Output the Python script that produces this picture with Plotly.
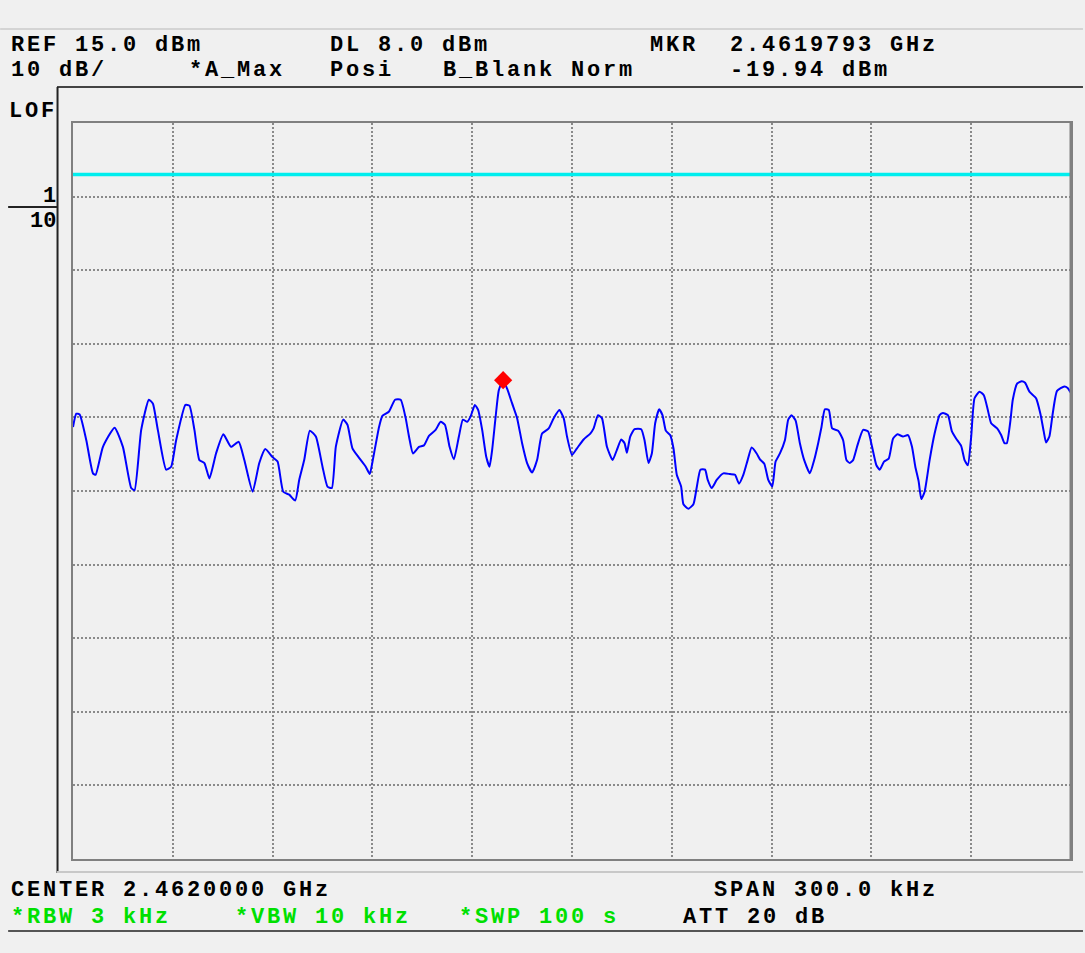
import plotly.graph_objects as go

# ---- data ----
freq_khz = [
    -150.0, -149.0, -148.0, -146.0, -144.0, -143.2, -141.0, -137.5, -135.0, -132.5,
    -131.5, -129.5, -127.2, -126.0, -124.5, -122.0, -120.5, -119.0, -116.2, -115.0,
    -113.5, -112.0, -110.5, -109.0, -107.0, -104.8, -102.5, -100.2, -98.5, -96.0,
    -94.0, -92.2, -90.0, -88.5, -86.8, -85.0, -83.2, -82.0, -80.5, -78.8,
    -77.0, -75.0, -73.5, -72.2, -71.0, -68.8, -67.5, -66.0, -64.0, -62.0,
    -60.8, -59.8, -58.0, -57.0, -55.0, -53.2, -51.5, -50.0, -49.0, -47.8,
    -46.0, -44.5, -43.0, -41.0, -39.5, -38.2, -36.8, -35.5, -34.0, -32.8,
    -31.5, -30.5, -29.2, -28.2, -27.0, -25.8, -24.8, -24.0, -23.0, -22.0,
    -20.7, -19.5, -18.0, -16.5, -15.0, -13.5, -12.0, -10.5, -9.0, -7.0,
    -5.5, -3.8, -2.5, -1.5, 0.0, 1.5, 3.5, 5.5, 6.5, 7.8,
    9.0, 10.5, 12.2, 13.5, 14.8, 15.8, 16.5, 17.5, 18.8, 20.8,
    21.8, 23.0, 24.0, 25.0, 26.2, 27.2, 28.2, 29.5, 30.5, 31.5,
    32.8, 33.5, 35.0, 36.5, 37.5, 38.6, 40.0, 40.8, 42.0, 43.5,
    45.5, 47.5, 49.0, 50.2, 51.5, 52.8, 54.0, 55.5, 56.5, 57.8,
    59.0, 60.2, 61.2, 62.5, 64.0, 65.0, 66.0, 67.2, 68.5, 69.8,
    71.5, 72.8, 74.0, 75.0, 76.0, 77.2, 78.2, 80.0, 81.5, 82.5,
    83.5, 84.5, 85.8, 87.5, 89.0, 90.2, 91.5, 92.5, 93.8, 95.2,
    96.5, 97.8, 99.5, 101.0, 102.2, 103.2, 104.2, 105.0, 106.0, 107.5,
    109.0, 110.5, 111.5, 113.0, 114.2, 115.5, 117.0, 118.0, 119.0, 120.0,
    121.0, 122.5, 123.8, 125.0, 126.0, 127.8, 129.0, 130.0, 130.7, 131.8,
    132.5, 133.8, 135.2, 136.2, 137.5, 139.5, 140.8, 141.8, 142.5, 143.5,
    144.5, 145.8, 148.0, 149.0, 150.0,
]
level_dbm = [
    -26.3, -24.5, -24.6, -28.1, -32.6, -32.8, -29.0, -26.4, -29.0, -34.6,
    -34.9, -26.7, -22.6, -23.1, -26.7, -32.1, -31.7, -28.1, -23.3, -23.4,
    -26.7, -30.8, -31.2, -33.3, -29.9, -27.3, -29.0, -28.3, -30.8, -35.1,
    -31.2, -29.3, -30.4, -31.0, -35.1, -35.5, -36.3, -33.5, -30.8, -26.8,
    -27.6, -31.7, -34.4, -34.6, -29.0, -25.3, -26.0, -29.2, -30.5, -31.7,
    -32.7, -30.6, -26.3, -24.8, -24.2, -22.6, -22.6, -25.1, -27.6, -29.9,
    -29.0, -28.8, -27.5, -26.7, -25.6, -26.0, -29.0, -30.7, -27.6, -25.3,
    -25.6, -24.9, -23.3, -24.0, -26.7, -30.3, -31.7, -29.4, -25.1, -21.3,
    -19.94, -21.1, -23.1, -25.1, -28.5, -31.2, -32.5, -30.8, -27.2, -26.5,
    -25.1, -24.0, -25.1, -27.6, -30.1, -29.2, -28.0, -27.2, -26.5, -24.7,
    -25.1, -29.0, -30.8, -29.4, -28.0, -28.5, -29.8, -27.6, -26.6, -26.6,
    -28.1, -31.2, -29.9, -25.8, -23.9, -24.7, -26.8, -27.4, -29.2, -32.8,
    -34.4, -36.8, -37.4, -36.8, -34.5, -32.1, -32.1, -33.5, -34.6, -33.5,
    -32.6, -32.7, -32.8, -34.0, -32.8, -30.8, -29.1, -29.9, -30.7, -31.3,
    -33.5, -34.4, -31.0, -29.9, -28.1, -25.3, -24.7, -25.4, -28.5, -30.8,
    -32.6, -30.8, -28.5, -26.3, -23.9, -24.0, -26.5, -26.8, -28.1, -30.8,
    -31.2, -30.8, -28.8, -26.7, -26.9, -29.0, -31.5, -32.1, -31.0, -30.6,
    -27.9, -27.3, -27.6, -27.4, -29.0, -31.7, -33.7, -36.1, -35.1, -30.8,
    -27.2, -24.7, -24.4, -24.7, -26.9, -27.9, -28.9, -30.8, -31.5, -27.6,
    -22.4, -21.5, -22.0, -24.0, -25.8, -26.5, -27.4, -28.5, -28.5, -25.4,
    -22.6, -20.4, -20.1, -20.3, -21.5, -22.4, -24.5, -26.9, -28.4, -27.6,
    -24.5, -21.4, -20.8, -21.0, -21.7,
]
ref_level = 15.0
db_per_div = 10.0
span_khz = 300.0
display_line_dbm = 8.0
marker_khz = -20.7
marker_dbm = -19.94

header_texts = [
    ("REF 15.0 dBm", 10, 45, "black"),
    ("DL 8.0 dBm", 330, 45, "black"),
    ("MKR", 650, 45, "black"),
    ("2.4619793 GHz", 730, 45, "black"),
    ("10 dB/", 10, 70, "black"),
    ("*A_Max", 188, 70, "black"),
    ("Posi", 330, 70, "black"),
    ("B_Blank Norm", 443, 70, "black"),
    ("-19.94 dBm", 730, 70, "black"),
    ("LOF", 8, 112, "black"),
    ("CENTER 2.4620000 GHz", 10, 890, "black"),
    ("SPAN 300.0 kHz", 714, 890, "black"),
    ("*RBW 3 kHz", 10, 917, "#00e000"),
    ("*VBW 10 kHz", 234, 917, "#00e000"),
    ("*SWP 100 s", 459, 917, "#00e000"),
    ("ATT 20 dB", 683, 917, "black"),
]

# ---- geometry ----
W, H = 1085, 953
L, R, T, B = 73, 1073, 123, 859
BG = "#f0f0f0"
FONT = "Liberation Mono"
FS = 22
LS = 2.8


def px(x):
    return (x - L) / (R - L)


def py(y):
    return (B - y) / (B - T)


fig = go.Figure()

fig.add_trace(go.Scatter(
    x=[-span_khz / 2, span_khz / 2], y=[display_line_dbm, display_line_dbm],
    mode="lines", line=dict(color="#00eeee", width=3.5), hoverinfo="skip"))

fig.add_trace(go.Scatter(
    x=freq_khz, y=level_dbm, mode="lines",
    line=dict(color="#0000ff", width=2, shape="spline", smoothing=0.5)))

fig.add_trace(go.Scatter(
    x=[marker_khz], y=[marker_dbm], mode="markers",
    marker=dict(symbol="diamond", size=14, color="#ff0000")))

annotations = []
for text, x, y, color in header_texts:
    annotations.append(dict(
        text='<span style="letter-spacing:%spx">%s</span>' % (LS, text),
        x=px(x), y=py(y), xref="paper", yref="paper", borderpad=0,
        xanchor="left", yanchor="middle", showarrow=False,
        font=dict(family=FONT, size=FS, color=color, weight="bold")))
for text, y in (("1", 196.5), ("10", 221.5)):
    annotations.append(dict(text=text, x=px(57), y=py(y), xref="paper", yref="paper",
                            xanchor="right", yanchor="middle", showarrow=False, borderpad=0,
                            font=dict(family=FONT, size=FS, color="black", weight="bold")))

shapes = []


def hline(y, x0, x1, color, w):
    shapes.append(dict(type="line", xref="paper", yref="paper",
                       x0=px(x0), x1=px(x1), y0=py(y), y1=py(y),
                       line=dict(color=color, width=w)))


def vline(x, y0, y1, color, w):
    shapes.append(dict(type="line", xref="paper", yref="paper",
                       x0=px(x), x1=px(x), y0=py(y0), y1=py(y1),
                       line=dict(color=color, width=w)))


hline(29, 0, W, "#d4d4d4", 2)
hline(87, 57, W, "#444444", 2)
vline(57.5, 87, 873, "#222222", 2)
hline(207, 8, 57.5, "#222222", 2)
hline(872, 57, W, "#c8c8c8", 2)
hline(931, 8, W, "#555555", 2)
vline(1073, 123, 859, "#808080", 3)

fig.update_layout(
    width=W, height=H,
    margin=dict(l=L, r=W - R, t=T, b=H - B),
    paper_bgcolor=BG, plot_bgcolor=BG,
    showlegend=False,
    annotations=annotations,
    shapes=shapes,
)
fig.update_xaxes(range=[-span_khz / 2, span_khz / 2], tick0=-span_khz / 2, dtick=span_khz / 10,
                 showticklabels=False, ticks="", showgrid=True, gridcolor="#8a8a8a",
                 gridwidth=2, griddash="2px,2px", zeroline=False,
                 showline=True, linecolor="#808080", linewidth=2, mirror=True)
fig.update_yaxes(range=[ref_level - 10 * db_per_div, ref_level], tick0=ref_level, dtick=db_per_div,
                 showticklabels=False, ticks="", showgrid=True, gridcolor="#8a8a8a",
                 gridwidth=2, griddash="2px,2px", zeroline=False,
                 showline=True, linecolor="#808080", linewidth=2, mirror=True)

fig.write_html(
    "out.html",
    config={"displayModeBar": False},
    post_script="document.body.style.margin='0';document.body.style.background='%s';"
                "document.documentElement.style.overflow='hidden';" % BG,
)
